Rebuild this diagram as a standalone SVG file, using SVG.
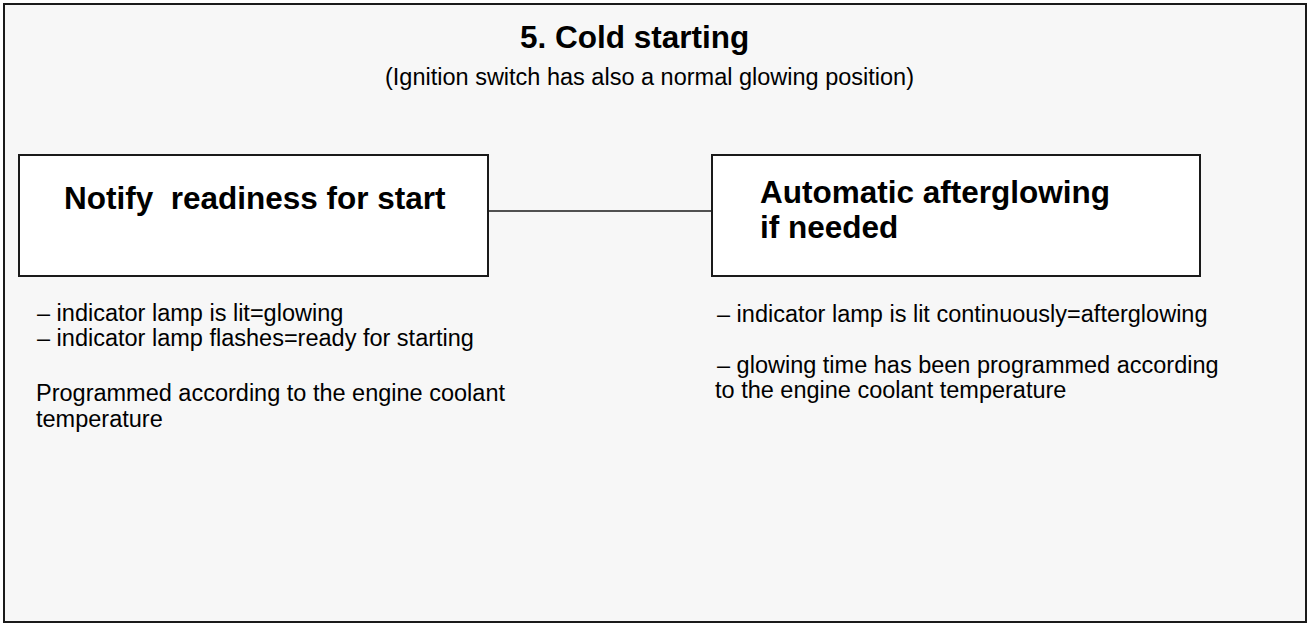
<svg xmlns="http://www.w3.org/2000/svg" width="1310" height="624" viewBox="0 0 1310 624">
<style>
.frame{fill:#f7f7f7;stroke:#1a1a1a;stroke-width:2}
.box{fill:#ffffff;stroke:#1a1a1a;stroke-width:2}
.conn{stroke:#1a1a1a;stroke-width:1.3;fill:none}
.t{font-family:"Liberation Sans",Arial,sans-serif;fill:#000}
.title{font-size:31.5px;font-weight:bold}
.sub{font-size:23.5px}
.node{font-size:31.5px;font-weight:bold}
.body{font-size:23.5px}
</style>
<rect class="frame" x="4" y="4" width="1302" height="618"/>
<text class="t title" x="520" y="48">5. Cold starting</text>
<text class="t sub" x="385" y="85">(Ignition switch has also a normal glowing position)</text>
<g id="connectors">
<line class="conn" x1="488" y1="211" x2="712" y2="211"/>
</g>
<g id="node-notify">
<rect class="box" x="19" y="155" width="469" height="121"/>
<text class="t node" x="64" y="209" xml:space="preserve">Notify  readiness for start</text>
</g>
<g id="node-afterglow">
<rect class="box" x="712" y="155" width="488" height="121"/>
<text class="t node" x="760" y="203">Automatic afterglowing</text>
<text class="t node" x="760" y="238">if needed</text>
</g>
<g id="notes-left">
<text class="t body" x="37" y="321">– indicator lamp is lit=glowing</text>
<text class="t body" x="37" y="346">– indicator lamp flashes=ready for starting</text>
<text class="t body" x="36" y="401">Programmed according to the engine coolant</text>
<text class="t body" x="36" y="427">temperature</text>
</g>
<g id="notes-right">
<text class="t body" x="717" y="322">– indicator lamp is lit continuously=afterglowing</text>
<text class="t body" x="717" y="373">– glowing time has been programmed according</text>
<text class="t body" x="715" y="398">to the engine coolant temperature</text>
</g>
</svg>
